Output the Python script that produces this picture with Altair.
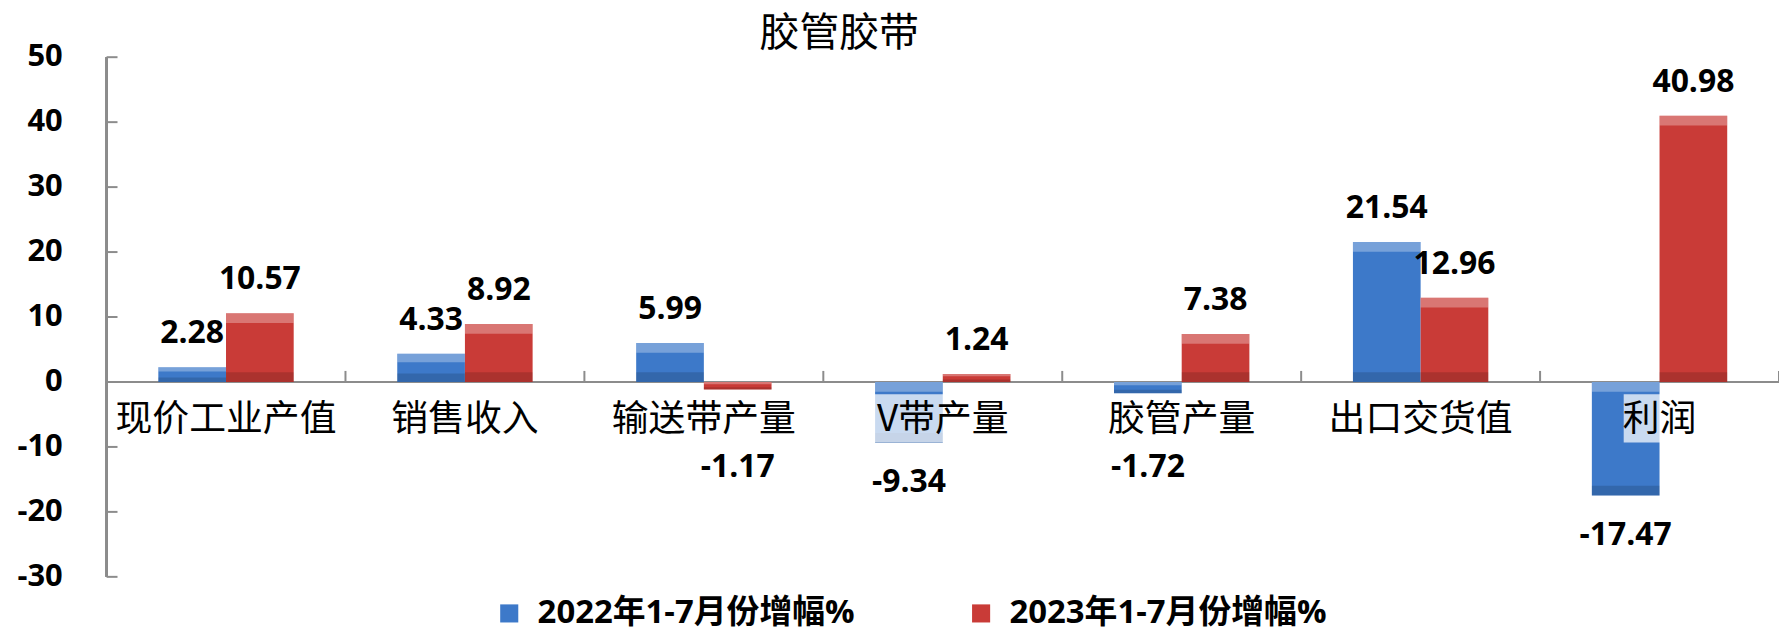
import altair as alt
import pandas as pd

# ---- data ----
categories = ["现价工业产值", "销售收入", "输送带产量", "V带产量", "胶管产量", "出口交货值", "利润"]
series = ["2022年1-7月份增幅%", "2023年1-7月份增幅%"]
v2022 = [2.28, 4.33, 5.99, -9.34, -1.72, 21.54, -17.47]
v2023 = [10.57, 8.92, -1.17, 1.24, 7.38, 12.96, 40.98]
y_ticks = [-30, -20, -10, 0, 10, 20, 30, 40, 50]
title_text = "胶管胶带"

colors = ["#3D79C9", "#C93B37"]

rows = []
for i, c in enumerate(categories):
    rows.append({"cat": c, "series": series[0], "value": v2022[i], "label": f"{v2022[i]:.2f}"})
    rows.append({"cat": c, "series": series[1], "value": v2023[i], "label": f"{v2023[i]:.2f}"})
df = pd.DataFrame(rows)
cat_df = pd.DataFrame({"cat": categories, "idx": list(range(len(categories)))})
tick_df = pd.DataFrame({"t": y_ticks, "tl": [str(t) for t in y_ticks]})

W, H = 1680, 522
NUM_FONT = "Open Sans, Noto Sans CJK SC"
CJK_FONT = "Noto Sans CJK SC"
AXIS_GRAY = "#8C8C8C"

yscale = alt.Scale(domain=[-30, 50], nice=False, zero=False)
xscale = alt.Scale(domain=categories, paddingInner=0, paddingOuter=0)
xoff_scale = alt.Scale(domain=series, paddingInner=0, paddingOuter=0.765)

X = alt.X("cat:N", scale=xscale, axis=None, sort=categories)
XO = alt.XOffset("series:N", scale=xoff_scale, sort=series)


def Yq(field):
    return alt.Y(field, scale=yscale, axis=None)


def Yd(v):
    return alt.Y(datum=v, scale=yscale, axis=None)


base = alt.Chart(df)

zero_line = alt.Chart(cat_df).mark_rule(color=AXIS_GRAY, strokeWidth=2).encode(
    x=alt.value(0), x2=alt.value(W), y=Yd(0)
)

y_domain = alt.Chart(cat_df).mark_rule(color=AXIS_GRAY, strokeWidth=2).encode(
    x=alt.value(0), y=Yd(-30), y2=alt.Y2(datum=50)
)

bars = base.mark_bar(strokeWidth=0).encode(
    x=X,
    xOffset=XO,
    y=Yq("value:Q"),
    y2=alt.Y2(datum=0),
    color=alt.Color(
        "series:N",
        scale=alt.Scale(domain=series, range=colors),
        sort=series,
        legend=alt.Legend(
            orient="none", legendX=388, legendY=542, direction="horizontal",
            title=None, symbolType="square", symbolSize=330, symbolStrokeWidth=0,
            symbolOpacity=1, labelFont=NUM_FONT, labelFontSize=33,
            labelFontWeight="bold", labelColor="black", columnPadding=110,
            labelOffset=12, labelLimit=600,
        ),
    ),
)

bevel = base.transform_calculate(
    top="max(datum.value, 0)", bot="min(datum.value, 0)"
).transform_calculate(
    bev="min(1.5, (datum.top - datum.bot) * 0.3)"
)

bevel_light = bevel.transform_calculate(lo="datum.top - datum.bev").mark_bar(
    color="white", opacity=0.3
).encode(x=X, xOffset=XO, y=Yq("top:Q"), y2="lo:Q")

bevel_dark = bevel.transform_calculate(hi="datum.bot + datum.bev").mark_bar(
    color="black", opacity=0.15
).encode(x=X, xOffset=XO, y=Yq("bot:Q"), y2="hi:Q")

label_box = alt.Chart(cat_df).transform_calculate(
    bx1="datum.idx + 0.5 - length(datum.cat) * 36 / 240 / 2",
    bx2="datum.idx + 0.5 + length(datum.cat) * 36 / 240 / 2",
).mark_rect(color="white", opacity=0.72).encode(
    x=alt.X("bx1:Q", scale=alt.Scale(domain=[0, len(categories)], nice=False, zero=False), axis=None),
    x2="bx2:Q",
    y=Yd(-1.9),
    y2=alt.Y2(datum=-9.3),
)

cat_labels = alt.Chart(cat_df).mark_text(
    font=CJK_FONT, fontSize=37, color="black", baseline="middle", dy=38
).encode(x=X, y=Yd(0), text="cat:N")

cat_ticks = alt.Chart(cat_df).mark_rule(color=AXIS_GRAY, strokeWidth=2).encode(
    x=alt.X("cat:N", scale=xscale, axis=None, sort=categories, bandPosition=1),
    y=Yd(0),
    y2=alt.Y2(datum=1.7),
)

y_tick_marks = alt.Chart(tick_df).mark_rule(color=AXIS_GRAY, strokeWidth=2).encode(
    x=alt.value(0), x2=alt.value(11), y=Yq("t:Q")
)

y_tick_labels = alt.Chart(tick_df).mark_text(
    font=NUM_FONT, fontSize=31, fontWeight="bold", color="black",
    align="right", baseline="middle",
).encode(x=alt.value(-44), y=Yq("t:Q"), text="tl:N")

pos_labels = base.transform_filter("datum.value >= 0").mark_text(
    font=NUM_FONT, fontSize=32, fontWeight="bold", color="black",
    baseline="middle", dy=-34,
).encode(x=X, xOffset=XO, y=Yq("value:Q"), text="label:N")

neg_labels = base.transform_filter("datum.value < 0").transform_calculate(
    ly="min(datum.value, -7)"
).mark_text(
    font=NUM_FONT, fontSize=32, fontWeight="bold", color="black",
    baseline="middle", dy=40,
).encode(x=X, xOffset=XO, y=Yq("ly:Q"), text="label:N")

chart = alt.layer(
    zero_line, bars, bevel_light, bevel_dark, label_box, cat_labels,
    cat_ticks, y_domain, y_tick_marks, y_tick_labels, pos_labels, neg_labels,
).resolve_scale(x="independent").properties(
    width=W,
    height=H,
    background="white",
    autosize=alt.AutoSizeParams(type="none"),
    padding={"left": 99, "top": 48, "right": 0, "bottom": 56},
    title=alt.TitleParams(
        title_text, font=CJK_FONT, fontSize=40, fontWeight="normal",
        color="black", anchor="middle", dx=-104, offset=-13,
    ),
).configure_view(stroke=None)

chart.save("out.html", embed_options={"renderer": "svg", "actions": False})
